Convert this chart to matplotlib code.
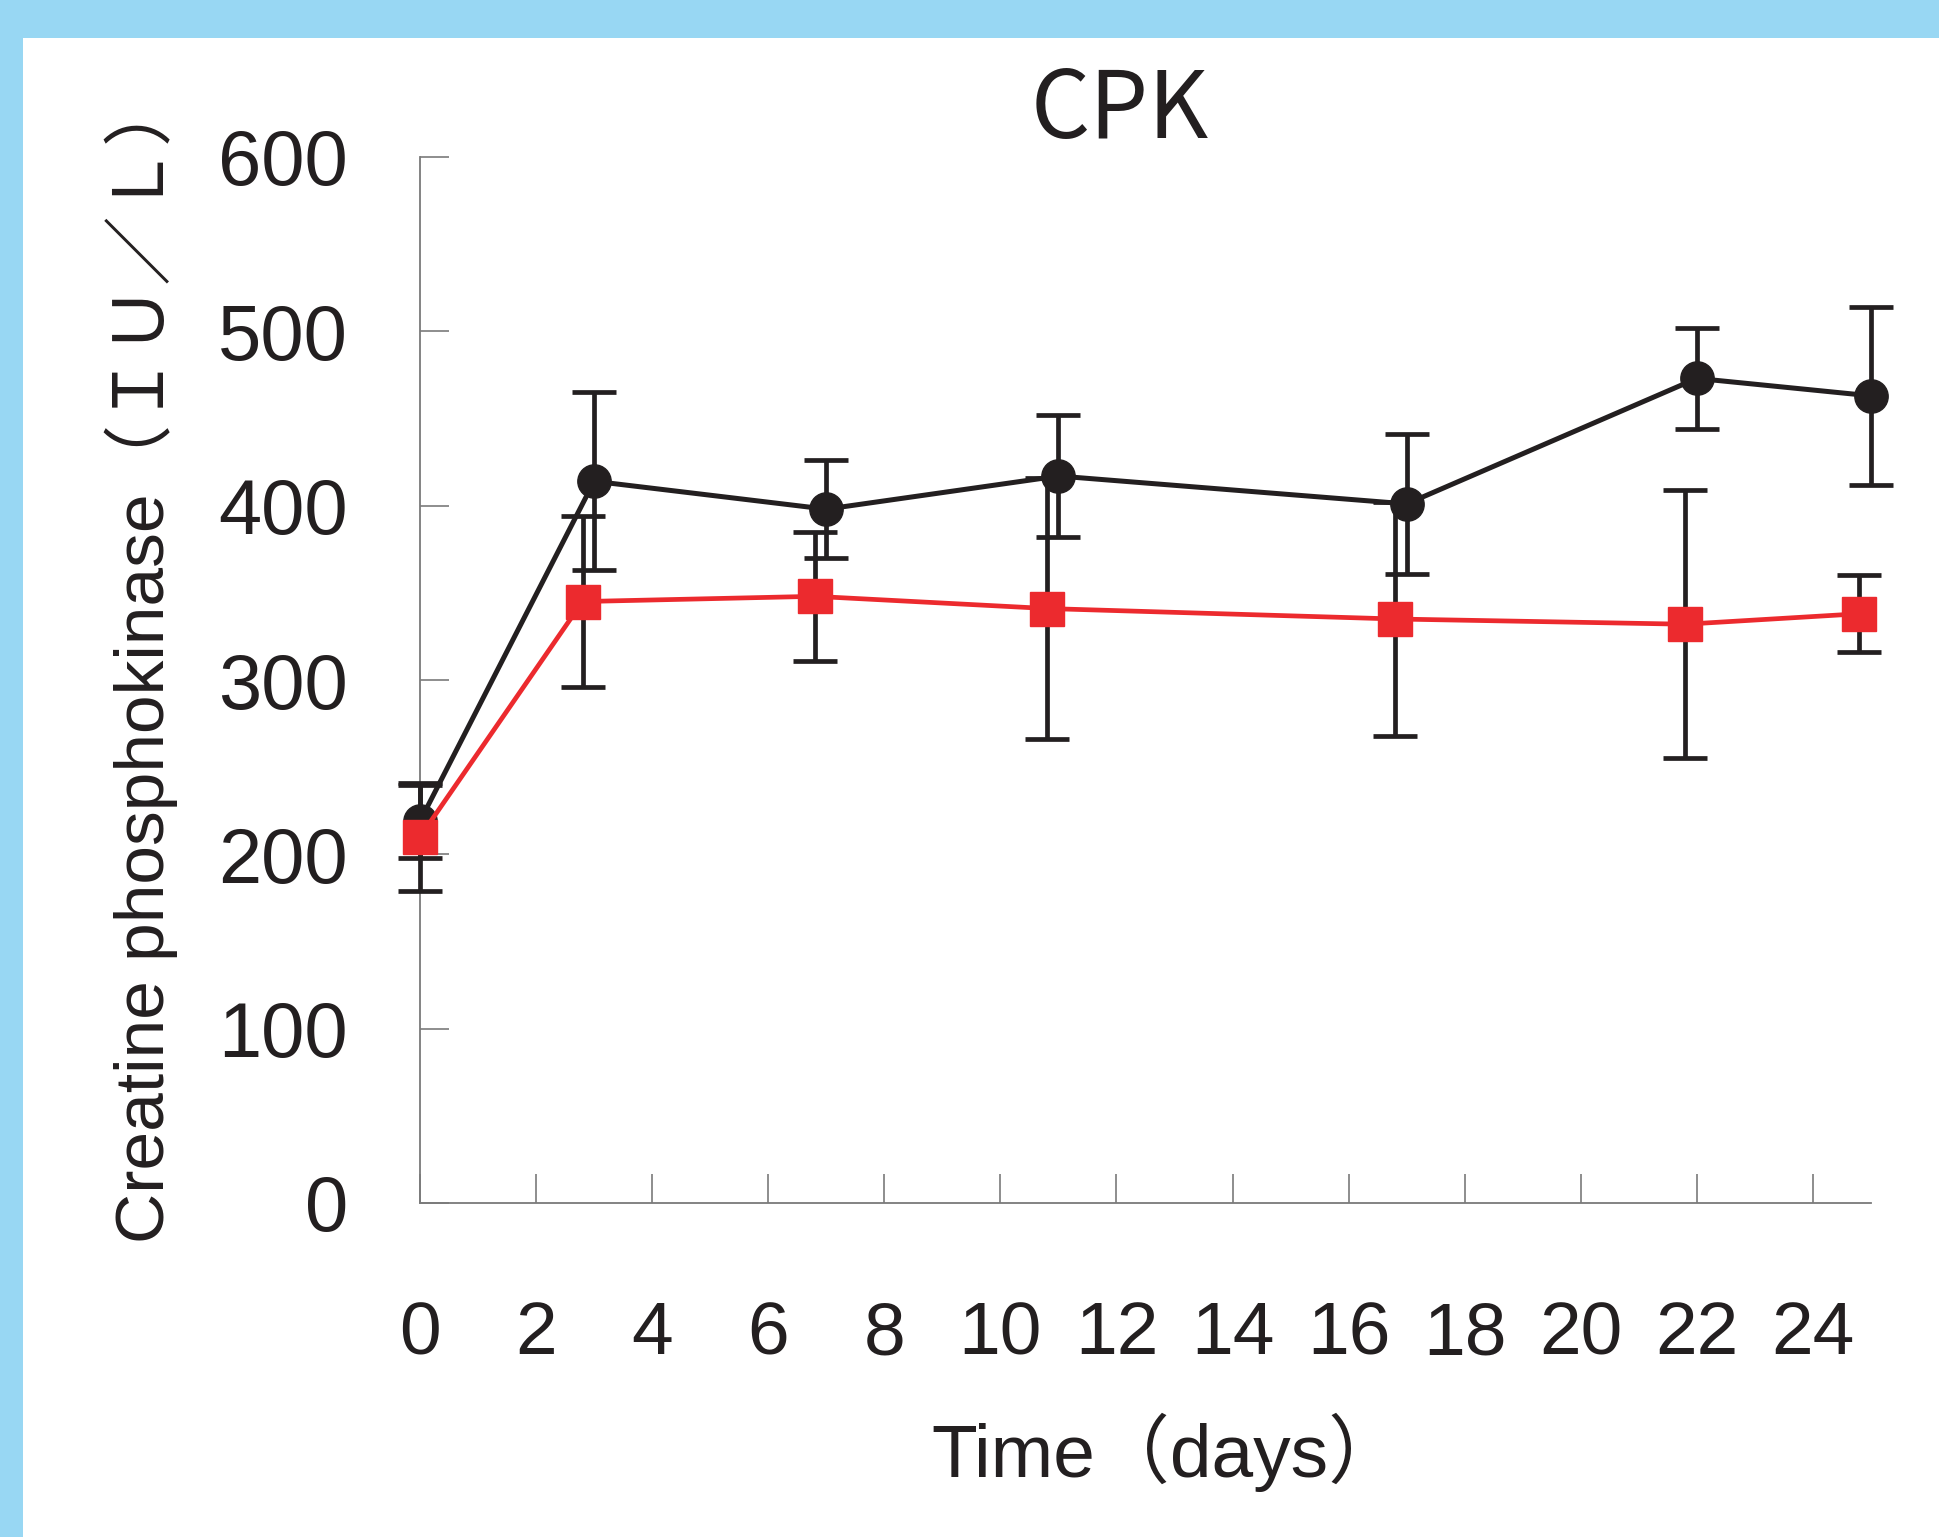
import matplotlib
matplotlib.use("Agg")
import matplotlib.pyplot as plt
from matplotlib.patches import Rectangle

# ---- data ----
days_black = [0, 3, 7, 11, 17, 22, 25]
cpk_black = [219, 414, 398, 417, 401, 473, 463]
err_black = [21, 51, 28, 35, 40, 29, 51]

days_red = [0, 2.8, 6.8, 10.8, 16.8, 21.8, 24.8]
cpk_red = [210, 345, 348, 341, 335, 332, 338]
err_red = [31, 49, 37, 75, 67, 77, 22]

x_ticks = list(range(0, 25, 2))
y_ticks = list(range(0, 601, 100))

title = "CPK"
xlabel = "Time（days）"
ylabel = "Creatine phosphokinase（ＩＵ／Ｌ）"

BLUE = "#98d7f3"
BLACK = "#231f20"
RED = "#ec2a2e"
GRAY = "#7a7a7a"

W, H = 1939, 1537
fig = plt.figure(figsize=(W / 100, H / 100), dpi=100)
fig.patch.set_facecolor("white")

# light-blue frame (top and left)
fig.add_artist(Rectangle((0, 1 - 38 / H), 1, 38 / H, transform=fig.transFigure,
                         facecolor=BLUE, edgecolor="none", zorder=0))
fig.add_artist(Rectangle((0, 0), 23 / W, 1, transform=fig.transFigure,
                         facecolor=BLUE, edgecolor="none", zorder=0))

left, right = 420 / W, 1871 / W
bottom, top = 1 - 1203 / H, 1 - 157 / H
ax = fig.add_axes([left, bottom, right - left, top - bottom])

cont_b = ax.errorbar(days_black, cpk_black, yerr=err_black, color=BLACK, lw=3.6,
                     marker="o", ms=24, mfc=BLACK, mec=BLACK, ecolor=BLACK,
                     elinewidth=3.4, capsize=16, capthick=3.4, zorder=3)
cont_r = ax.errorbar(days_red, cpk_red, yerr=err_red, color=RED, lw=3.4,
                     marker="s", ms=24, mfc=RED, mec=RED, ecolor=BLACK,
                     elinewidth=3.4, capsize=16, capthick=3.4, zorder=4)
for cont in (cont_b, cont_r):
    for art in cont.get_children():
        art.set_clip_on(False)

ax.set_xlim(0, 25)
ax.set_ylim(0, 600)
ax.set_xticks(x_ticks)
ax.set_yticks(y_ticks)

for s in ["top", "right"]:
    ax.spines[s].set_visible(False)
for s in ["left", "bottom"]:
    ax.spines[s].set_color(GRAY)
    ax.spines[s].set_linewidth(1.3)

ax.tick_params(axis="both", direction="in", length=21, width=1.2, color=GRAY)
ax.tick_params(axis="y", pad=52, labelsize=56, labelcolor=BLACK)
ax.tick_params(axis="x", pad=70, labelsize=54, labelcolor=BLACK)
for lab in ax.get_yticklabels():
    lab.set_fontfamily(["Liberation Sans", "DejaVu Sans"])
for lab in ax.get_xticklabels():
    lab.set_fontfamily(["Liberation Sans", "DejaVu Sans"])

mixed = ["Liberation Sans", "Noto Sans CJK JP", "DejaVu Sans"]
fig.text(1120 / W, 1 - 138 / H, title, ha="center", va="baseline",
         fontsize=67, color=BLACK, family=["Noto Sans CJK JP", "DejaVu Sans"])
fig.text(1167 / W, 1 - 1477 / H, xlabel, ha="center", va="baseline",
         fontsize=54, color=BLACK, family=mixed)
fig.text(141 / W, 1 - 660 / H, ylabel, ha="center", va="center",
         rotation=90, fontsize=50, color=BLACK, family=mixed)

fig.savefig("out.png", dpi=100, facecolor="white")
